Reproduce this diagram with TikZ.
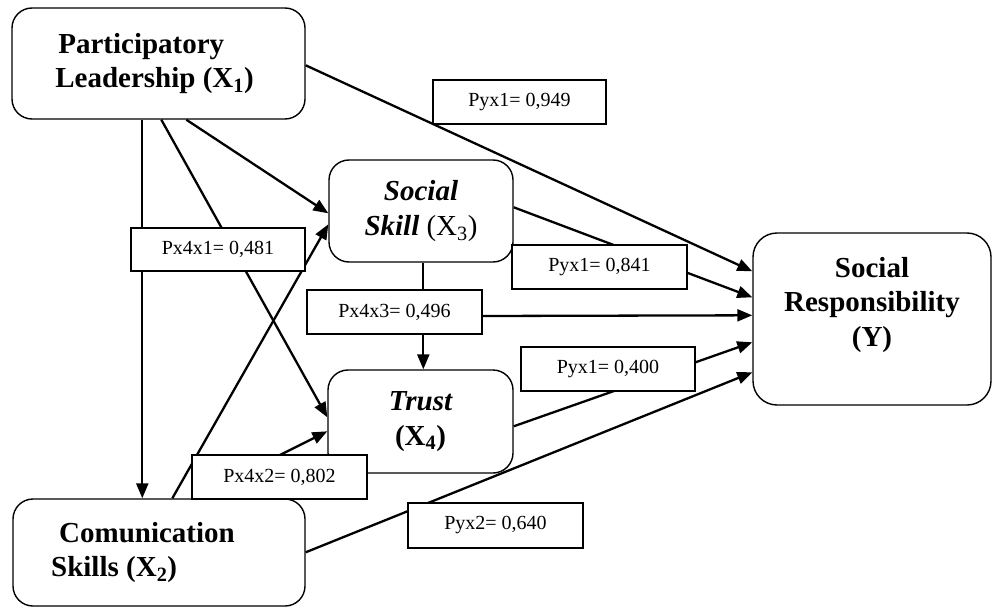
\documentclass[tikz,border=0pt]{standalone}
\usepackage{fontspec}
\setmainfont{Liberation Serif}
\usetikzlibrary{arrows.meta,calc}
\tikzset{
  var/.style={draw, line width=1.4pt, rounded corners=20pt, fill=white, inner sep=0pt,
    font=\fontsize{29}{34.5}\selectfont\bfseries},
  coef/.style={draw, line width=1.3pt, fill=white, inner sep=0pt,
    minimum width=174pt, minimum height=44pt, font=\fontsize{20}{24}\selectfont},
  arr/.style={line width=2.3pt, -{Triangle[length=15pt,width=12pt]}},
  ln/.style={line width=2.3pt}
}
\begin{document}
\begin{tikzpicture}[x=1pt,y=-1pt]
\useasboundingbox (0,0) rectangle (992,607);
% variables
\node[var, minimum width=293pt, minimum height=111pt, align=left] (X1) at (158.5,63.5)
  {\hspace*{3pt}Participatory\\Leadership (X\textsubscript{1})\hspace*{8pt}};
\node[var, minimum width=184pt, minimum height=102pt, align=center] (X3) at (421,211)
  {\itshape Social\\{\itshape Skill} {\mdseries\upshape(X\textsubscript{3})}};
\node[var, minimum width=185pt, minimum height=103pt, align=center] (X4) at (420.5,421.5)
  {\itshape Trust\\{\upshape(X\textsubscript{4})}};
\node[var, minimum width=292pt, minimum height=107pt, align=left] (X2) at (159,552.5)
  {\hspace*{8pt}Comunication\hspace*{32pt}\\Skills (X\textsubscript{2})};
\node[var, minimum width=238pt, minimum height=172pt, align=center, rounded corners=24pt] (Y) at (872,319)
  {Social\\Responsibility\\(Y)\\\mbox{}};
% hidden start of X2 -> X4
\coordinate (c6) at (240,475);
% connectors
\draw[arr] ($(X1.north east)+(0,58)$) -- ($(Y.north west)+(0,39)$);
\draw[arr] ($(X1.south west)+(131,0)$) -- ($(X2.north west)+(130,0)$);
\draw[arr] ($(X1.south west)+(150,0)$) -- ($(X4.north west)+(0,48)$);
\draw[arr] ($(X1.south west)+(175,0)$) -- ($(X3.north west)+(0,54)$);
\draw[arr] ($(X2.north west)+(160,0)$) -- ($(X3.north west)+(0,65)$);
\draw[arr] (c6) -- ($(X4.north west)+(0,62)$);
\draw[arr] ($(X3.north east)+(0,48)$) -- ($(Y.north west)+(0,65)$);
\draw[arr] ($(X3.south west)+(95,0)$) -- ($(X4.north west)+(96,0)$);
\draw[arr] ($(X4.north east)+(0,57)$) -- ($(Y.north west)+(0,110)$);
\draw[arr] ($(X2.north east)+(0,54)$) -- ($(Y.north west)+(0,140)$);
% coefficient labels
\node[coef, minimum width=173pt] (L949) at (519.5,102) {Pyx1= 0,949};
\node[coef, minimum height=43pt] (L481) at (218,249.5) {Px4x1= 0,481};
\node[coef, minimum width=175pt] (L841) at (599.5,267) {Pyx1= 0,841};
\node[coef, minimum width=175pt] (L496) at (394.5,312) {Px4x3= 0,496};
\node[coef] (L400) at (608,369) {Pyx1= 0,400};
\node[coef, minimum width=175pt] (L802) at (279.5,477) {Px4x2= 0,802};
\node[coef, minimum width=175pt, minimum height=45pt] (L640) at (495.5,525.5) {Pyx2= 0,640};
\draw[arr] ($(L496.east)+(0,4)$) -- ($(Y.north west)+(0,83)$);
\end{tikzpicture}
\end{document}
